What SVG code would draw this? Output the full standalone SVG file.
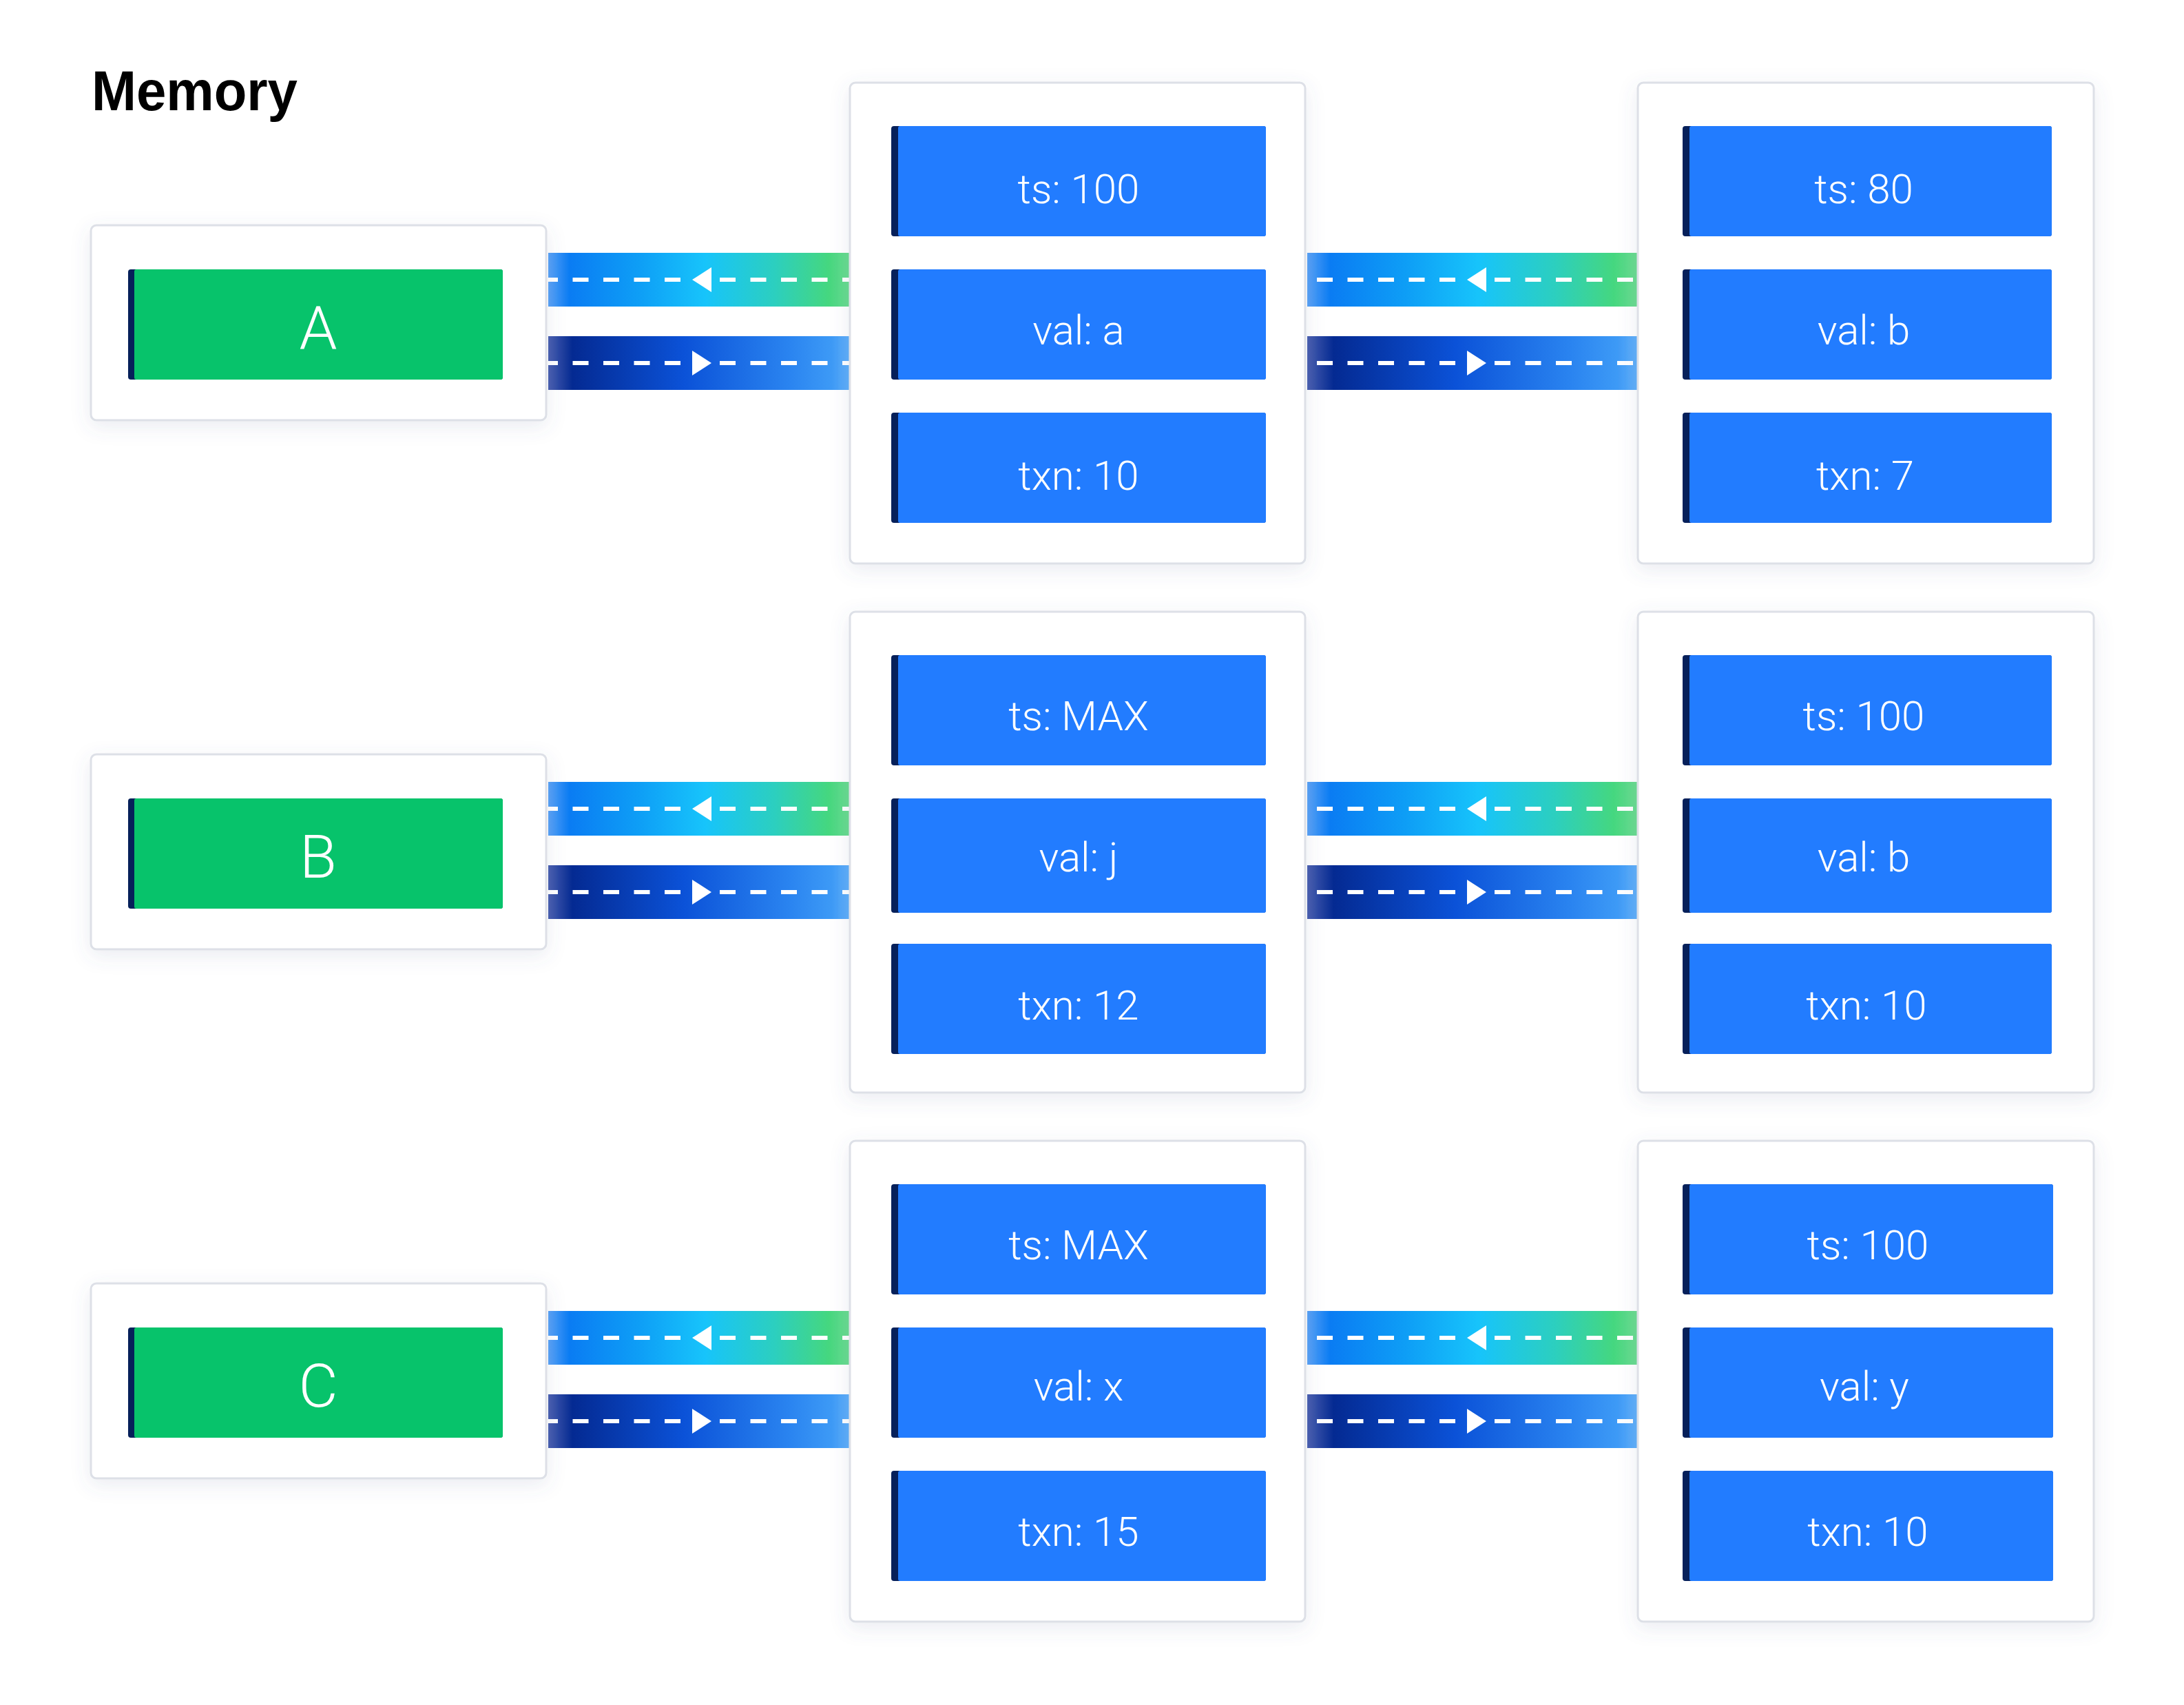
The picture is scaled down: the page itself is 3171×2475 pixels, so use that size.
<svg xmlns="http://www.w3.org/2000/svg" width="3171" height="2475" viewBox="0 0 3171 2475">
<style>
.card{fill:#ffffff;stroke:#dde0e7;stroke-width:3}
.bar{fill:#06205a}
.blue{fill:#227cff}
.green{fill:#07c36b}
.lbl{fill:#ffffff;font-family:Roboto,"Liberation Sans",sans-serif;font-weight:300;font-size:60px;text-anchor:middle}
.key{fill:#ffffff;font-family:Roboto,"Liberation Sans",sans-serif;font-weight:300;font-size:88px;text-anchor:middle}
.dash{stroke:#ffffff;stroke-width:6;stroke-dasharray:23 21.5;fill:none}
.tri{fill:#ffffff}
.title{fill:#000000;font-family:"Liberation Sans",Arial,sans-serif;font-weight:bold;font-size:82px}
</style>
<defs>
<filter id="sh" x="-20%" y="-20%" width="140%" height="140%">
<feDropShadow dx="0" dy="8" stdDeviation="14" flood-color="#5a6a90" flood-opacity="0.12"/>
</filter>
<linearGradient id="gUp" x1="0" y1="0" x2="1" y2="0">
<stop offset="0" stop-color="#5aa2f6"/>
<stop offset="0.07" stop-color="#0a7cf3"/>
<stop offset="0.3" stop-color="#0e9ef6"/>
<stop offset="0.52" stop-color="#17c4fb"/>
<stop offset="0.75" stop-color="#2ccfbf"/>
<stop offset="0.93" stop-color="#45d77f"/>
<stop offset="1" stop-color="#6cdc90"/>
</linearGradient>
<linearGradient id="gDn" x1="0" y1="0" x2="1" y2="0">
<stop offset="0" stop-color="#4a5fb0"/>
<stop offset="0.08" stop-color="#042a92"/>
<stop offset="0.45" stop-color="#0b52d8"/>
<stop offset="0.8" stop-color="#2a84f0"/>
<stop offset="0.94" stop-color="#3d9af6"/>
<stop offset="1" stop-color="#62b0fa"/>
</linearGradient>
</defs>
<rect width="3171" height="2475" fill="#ffffff"/>
<text class="title" x="133" y="160" textLength="299" lengthAdjust="spacingAndGlyphs">Memory</text>

<g id="connectors">
<g id="row-a-links">
<rect x="796" y="367" width="438" height="78" fill="url(#gUp)"/>
<path class="dash" d="M988 406H796M1045 406H1234"/>
<polygon class="tri" points="1005,406 1033,388 1033,424"/>
<rect x="796" y="488" width="438" height="78" fill="url(#gDn)"/>
<path class="dash" d="M988 527H796M1045 527H1234"/>
<polygon class="tri" points="1033,527 1005,509 1005,545"/>
<rect x="1898" y="367" width="479" height="78" fill="url(#gUp)"/>
<path class="dash" d="M2113 406H1898M2170 406H2377"/>
<polygon class="tri" points="2130,406 2158,388 2158,424"/>
<rect x="1898" y="488" width="479" height="78" fill="url(#gDn)"/>
<path class="dash" d="M2113 527H1898M2170 527H2377"/>
<polygon class="tri" points="2158,527 2130,509 2130,545"/>
</g>
<g id="row-b-links" transform="translate(0,768)">
<rect x="796" y="367" width="438" height="78" fill="url(#gUp)"/>
<path class="dash" d="M988 406H796M1045 406H1234"/>
<polygon class="tri" points="1005,406 1033,388 1033,424"/>
<rect x="796" y="488" width="438" height="78" fill="url(#gDn)"/>
<path class="dash" d="M988 527H796M1045 527H1234"/>
<polygon class="tri" points="1033,527 1005,509 1005,545"/>
<rect x="1898" y="367" width="479" height="78" fill="url(#gUp)"/>
<path class="dash" d="M2113 406H1898M2170 406H2377"/>
<polygon class="tri" points="2130,406 2158,388 2158,424"/>
<rect x="1898" y="488" width="479" height="78" fill="url(#gDn)"/>
<path class="dash" d="M2113 527H1898M2170 527H2377"/>
<polygon class="tri" points="2158,527 2130,509 2130,545"/>
</g>
<g id="row-c-links" transform="translate(0,1536)">
<rect x="796" y="367" width="438" height="78" fill="url(#gUp)"/>
<path class="dash" d="M988 406H796M1045 406H1234"/>
<polygon class="tri" points="1005,406 1033,388 1033,424"/>
<rect x="796" y="488" width="438" height="78" fill="url(#gDn)"/>
<path class="dash" d="M988 527H796M1045 527H1234"/>
<polygon class="tri" points="1033,527 1005,509 1005,545"/>
<rect x="1898" y="367" width="479" height="78" fill="url(#gUp)"/>
<path class="dash" d="M2113 406H1898M2170 406H2377"/>
<polygon class="tri" points="2130,406 2158,388 2158,424"/>
<rect x="1898" y="488" width="479" height="78" fill="url(#gDn)"/>
<path class="dash" d="M2113 527H1898M2170 527H2377"/>
<polygon class="tri" points="2158,527 2130,509 2130,545"/>
</g>
</g>

<!-- Row A -->
<g id="key-A">
<rect class="card" x="132" y="327" width="661" height="283" rx="8" filter="url(#sh)"/>
<rect class="bar" x="186" y="391" width="544" height="160" rx="4"/>
<rect class="green" x="195" y="391" width="535" height="160" rx="3"/>
<text class="key" x="462" y="506">A</text>
</g>
<g id="A-v1">
<rect class="card" x="1234" y="120" width="661" height="698" rx="8" filter="url(#sh)"/>
<rect class="bar" x="1294" y="183" width="544" height="160" rx="4"/>
<rect class="blue" x="1304" y="183" width="534" height="160" rx="3"/>
<text class="lbl" x="1566" y="295">ts: 100</text>
<rect class="bar" x="1294" y="391" width="544" height="160" rx="4"/>
<rect class="blue" x="1304" y="391" width="534" height="160" rx="3"/>
<text class="lbl" x="1566" y="500">val: a</text>
<rect class="bar" x="1294" y="599" width="544" height="160" rx="4"/>
<rect class="blue" x="1304" y="599" width="534" height="160" rx="3"/>
<text class="lbl" x="1566" y="711">txn: 10</text>
</g>
<g id="A-v2">
<rect class="card" x="2378" y="120" width="662" height="698" rx="8" filter="url(#sh)"/>
<rect class="bar" x="2443" y="183" width="536" height="160" rx="4"/>
<rect class="blue" x="2453" y="183" width="526" height="160" rx="3"/>
<text class="lbl" x="2706" y="295">ts: 80</text>
<rect class="bar" x="2443" y="391" width="536" height="160" rx="4"/>
<rect class="blue" x="2453" y="391" width="526" height="160" rx="3"/>
<text class="lbl" x="2706" y="500">val: b</text>
<rect class="bar" x="2443" y="599" width="536" height="160" rx="4"/>
<rect class="blue" x="2453" y="599" width="526" height="160" rx="3"/>
<text class="lbl" x="2708" y="711">txn: 7</text>
</g>

<!-- Row B -->
<g id="key-B">
<rect class="card" x="132" y="1095" width="661" height="283" rx="8" filter="url(#sh)"/>
<rect class="bar" x="186" y="1159" width="544" height="160" rx="4"/>
<rect class="green" x="195" y="1159" width="535" height="160" rx="3"/>
<text class="key" x="462" y="1274">B</text>
</g>
<g id="B-v1">
<rect class="card" x="1234" y="888" width="661" height="698" rx="8" filter="url(#sh)"/>
<rect class="bar" x="1294" y="951" width="544" height="160" rx="4"/>
<rect class="blue" x="1304" y="951" width="534" height="160" rx="3"/>
<text class="lbl" x="1566" y="1060">ts: MAX</text>
<rect class="bar" x="1294" y="1159" width="544" height="166" rx="4"/>
<rect class="blue" x="1304" y="1159" width="534" height="166" rx="3"/>
<text class="lbl" x="1566" y="1265">val: j</text>
<rect class="bar" x="1294" y="1370" width="544" height="160" rx="4"/>
<rect class="blue" x="1304" y="1370" width="534" height="160" rx="3"/>
<text class="lbl" x="1566" y="1480">txn: 12</text>
</g>
<g id="B-v2">
<rect class="card" x="2378" y="888" width="662" height="698" rx="8" filter="url(#sh)"/>
<rect class="bar" x="2443" y="951" width="536" height="160" rx="4"/>
<rect class="blue" x="2453" y="951" width="526" height="160" rx="3"/>
<text class="lbl" x="2706" y="1060">ts: 100</text>
<rect class="bar" x="2443" y="1159" width="536" height="166" rx="4"/>
<rect class="blue" x="2453" y="1159" width="526" height="166" rx="3"/>
<text class="lbl" x="2706" y="1265">val: b</text>
<rect class="bar" x="2443" y="1370" width="536" height="160" rx="4"/>
<rect class="blue" x="2453" y="1370" width="526" height="160" rx="3"/>
<text class="lbl" x="2710" y="1480">txn: 10</text>
</g>

<!-- Row C -->
<g id="key-C">
<rect class="card" x="132" y="1863" width="661" height="283" rx="8" filter="url(#sh)"/>
<rect class="bar" x="186" y="1927" width="544" height="160" rx="4"/>
<rect class="green" x="195" y="1927" width="535" height="160" rx="3"/>
<text class="key" x="462" y="2042">C</text>
</g>
<g id="C-v1">
<rect class="card" x="1234" y="1656" width="661" height="698" rx="8" filter="url(#sh)"/>
<rect class="bar" x="1294" y="1719" width="544" height="160" rx="4"/>
<rect class="blue" x="1304" y="1719" width="534" height="160" rx="3"/>
<text class="lbl" x="1566" y="1828">ts: MAX</text>
<rect class="bar" x="1294" y="1927" width="544" height="160" rx="4"/>
<rect class="blue" x="1304" y="1927" width="534" height="160" rx="3"/>
<text class="lbl" x="1566" y="2033">val: x</text>
<rect class="bar" x="1294" y="2135" width="544" height="160" rx="4"/>
<rect class="blue" x="1304" y="2135" width="534" height="160" rx="3"/>
<text class="lbl" x="1566" y="2244">txn: 15</text>
</g>
<g id="C-v2">
<rect class="card" x="2378" y="1656" width="662" height="698" rx="8" filter="url(#sh)"/>
<rect class="bar" x="2443" y="1719" width="538" height="160" rx="4"/>
<rect class="blue" x="2453" y="1719" width="528" height="160" rx="3"/>
<text class="lbl" x="2712" y="1828">ts: 100</text>
<rect class="bar" x="2443" y="1927" width="538" height="160" rx="4"/>
<rect class="blue" x="2453" y="1927" width="528" height="160" rx="3"/>
<text class="lbl" x="2707" y="2033">val: y</text>
<rect class="bar" x="2443" y="2135" width="538" height="160" rx="4"/>
<rect class="blue" x="2453" y="2135" width="528" height="160" rx="3"/>
<text class="lbl" x="2712" y="2244">txn: 10</text>
</g>
</svg>
